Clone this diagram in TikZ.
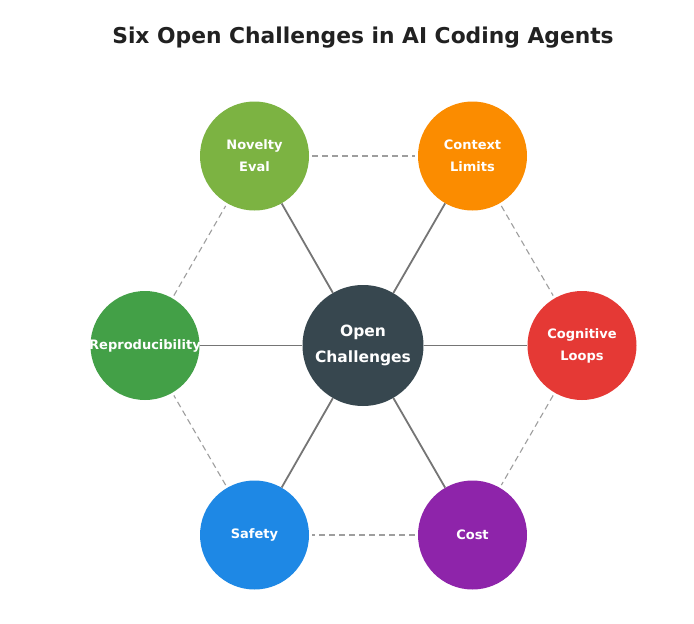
\documentclass[tikz,border=0pt]{standalone}
\usepackage{fontspec}
\setmainfont{DejaVu Sans}
\definecolor{cnov}{HTML}{7CB342}
\definecolor{cctx}{HTML}{FB8C00}
\definecolor{ccog}{HTML}{E53935}
\definecolor{ccost}{HTML}{8E24AA}
\definecolor{csaf}{HTML}{1E88E5}
\definecolor{crep}{HTML}{43A047}
\definecolor{ccen}{HTML}{37474F}
\definecolor{spoke}{HTML}{757575}
\definecolor{ring}{HTML}{9E9E9E}
\definecolor{ttl}{HTML}{212121}
\begin{document}
\begin{tikzpicture}[x=1pt,y=-1pt,
  outer/.style={circle,minimum size=109pt,inner sep=-12pt,text=white,align=center,font=\fontsize{13}{22}\selectfont\bfseries},
  hub/.style={circle,minimum size=121pt,inner sep=0pt,fill=ccen,text=white,align=center,font=\fontsize{15.5}{26}\selectfont\bfseries},
  spokeline/.style={draw=spoke,line width=1.8pt},
  ringline/.style={draw=ring,line width=1.1pt,dash pattern=on 6pt off 4pt,shorten <=3pt,shorten >=3pt}]
\useasboundingbox (0,0) rectangle (694,624);
\fill[white] (0,0) rectangle (694,624);
\node[font=\fontsize{21.8}{26}\selectfont\bfseries,text=ttl] (title) at (363,37.5) {Six Open Challenges in AI Coding Agents};
\node[hub] (hub) at (363,345.5) {Open\\Challenges};
\node[outer,fill=cnov] (nov) at (254.5,156) {Novelty\\Eval};
\node[outer,fill=cctx] (ctx) at (472.5,156) {Context\\Limits};
\node[outer,fill=ccog] (cog) at (582,345.5) {Cognitive\\Loops};
\node[outer,fill=ccost] (cost) at (472.5,535) {Cost};
\node[outer,fill=csaf] (saf) at (254.5,535) {Safety};
\node[outer,fill=crep] (rep) at (145,345.5) {Reproducibility};
\foreach \n in {nov,ctx,cog,cost,saf,rep}{\draw[spokeline] (hub) -- (\n);}
\draw[ringline] (nov) -- (ctx);
\draw[ringline] (ctx) -- (cog);
\draw[ringline] (cog) -- (cost);
\draw[ringline] (cost) -- (saf);
\draw[ringline] (saf) -- (rep);
\draw[ringline] (rep) -- (nov);
\end{tikzpicture}
\end{document}
